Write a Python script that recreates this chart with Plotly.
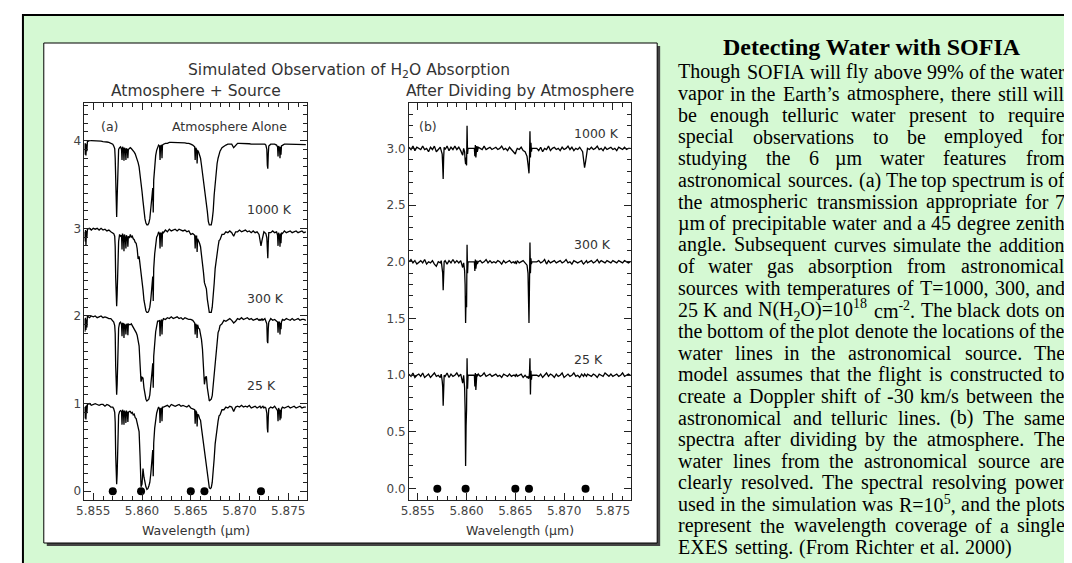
import re
import plotly.graph_objects as go

W, H = 1072, 563

# ---- panel (a): atmosphere + source, wavelength grid (um) and normalised flux ----
WL_A = [
    5.8541, 5.85415, 5.8542, 5.85425, 5.8543, 5.85435, 5.8544, 5.8546, 5.8548, 5.8550,
    5.8552, 5.8554, 5.8556, 5.8558, 5.8560, 5.8562, 5.8564, 5.8566, 5.8568, 5.8570,
    5.8571, 5.8572, 5.85725, 5.8573, 5.85735, 5.8574, 5.85745, 5.8575, 5.85755, 5.8576,
    5.8577, 5.8578, 5.8579, 5.85795, 5.8580, 5.8581, 5.85815, 5.8582, 5.8583, 5.85835,
    5.8584, 5.8585, 5.85855, 5.8586, 5.8587, 5.8588, 5.8589, 5.8590, 5.8591, 5.8592,
    5.8593, 5.8594, 5.8595, 5.8596, 5.8597, 5.8598, 5.8599, 5.8600, 5.8601, 5.8602,
    5.8603, 5.8604, 5.8605, 5.8606, 5.8607, 5.8608, 5.8609, 5.8610, 5.86105, 5.8611,
    5.86115, 5.8612, 5.8613, 5.8614, 5.8615, 5.8616, 5.8617, 5.8618, 5.86185, 5.8619,
    5.8620, 5.86205, 5.8621, 5.8622, 5.8624, 5.8626, 5.8628, 5.8630, 5.8632, 5.8634,
    5.8636, 5.8638, 5.8640, 5.8642, 5.8644, 5.8646, 5.8648, 5.8650, 5.8652, 5.8654,
    5.86545, 5.8655, 5.8656, 5.86565, 5.8657, 5.8658, 5.8659, 5.8660, 5.8661, 5.8662,
    5.8663, 5.8664, 5.8665, 5.8666, 5.8667, 5.8668, 5.8669, 5.8670, 5.8671, 5.8672,
    5.8673, 5.8674, 5.8675, 5.8676, 5.8677, 5.8678, 5.8679, 5.8680, 5.8682, 5.8684,
    5.8686, 5.8688, 5.8690, 5.8692, 5.8694, 5.8696, 5.8698, 5.8700, 5.8702, 5.8704,
    5.8706, 5.8708, 5.8710, 5.8712, 5.8714, 5.8716, 5.8718, 5.8720, 5.8721, 5.8722,
    5.8723, 5.8724, 5.8725, 5.8726, 5.8727, 5.8728, 5.87285, 5.8729, 5.87295, 5.8730,
    5.8732, 5.8734, 5.8736, 5.8738, 5.8739, 5.87395, 5.8740, 5.8741, 5.87415, 5.8742,
    5.87425, 5.8743, 5.8744, 5.8746, 5.8748, 5.8750, 5.8752, 5.8754, 5.8756, 5.8758,
    5.8760, 5.8762, 5.8764, 5.8766, 5.8768,
]

ATMOS = [
    0.97, 0.84, 0.97, 0.83, 0.96, 0.88, 0.99, 1.00, 1.00, 1.00,
    1.00, 1.00, 0.995, 0.995, 0.99, 0.99, 0.985, 0.98, 0.97, 0.96,
    0.94, 0.91, 0.80, 0.45, 0.15, 0.13, 0.35, 0.72, 0.85, 0.90,
    0.92, 0.93, 0.90, 0.78, 0.93, 0.91, 0.77, 0.92, 0.90, 0.78,
    0.91, 0.90, 0.80, 0.90, 0.91, 0.92, 0.91, 0.90, 0.89, 0.87,
    0.85, 0.82, 0.79, 0.75, 0.70, 0.62, 0.53, 0.42, 0.31, 0.19,
    0.11, 0.06, 0.04, 0.04, 0.06, 0.11, 0.20, 0.33, 0.40, 0.46,
    0.18, 0.55, 0.72, 0.83, 0.89, 0.93, 0.95, 0.94, 0.78, 0.94,
    0.95, 0.80, 0.95, 0.96, 0.97, 0.97, 0.98, 0.98, 0.98, 0.98,
    0.98, 0.98, 0.98, 0.98, 0.975, 0.97, 0.97, 0.96, 0.95, 0.93,
    0.78, 0.92, 0.90, 0.74, 0.89, 0.87, 0.84, 0.80, 0.72, 0.64,
    0.57, 0.48, 0.40, 0.32, 0.19, 0.08, 0.04, 0.04, 0.04, 0.10,
    0.20, 0.38, 0.53, 0.64, 0.74, 0.80, 0.85, 0.88, 0.92, 0.94,
    0.95, 0.96, 0.96, 0.96, 0.92, 0.95, 0.97, 0.97, 0.97, 0.97,
    0.97, 0.97, 0.965, 0.96, 0.96, 0.96, 0.96, 0.96, 0.96, 0.96,
    0.96, 0.96, 0.96, 0.96, 0.95, 0.90, 0.72, 0.68, 0.85, 0.94,
    0.96, 0.96, 0.96, 0.95, 0.93, 0.82, 0.94, 0.92, 0.80, 0.93,
    0.84, 0.94, 0.95, 0.96, 0.96, 0.96, 0.96, 0.96, 0.96, 0.96,
    0.96, 0.96, 0.96, 0.955, 0.955,
]

K1000 = [
    0.96, 0.85, 0.98, 0.80, 0.97, 0.90, 0.99, 1.00, 0.98, 1.00,
    0.99, 1.00, 0.98, 1.00, 0.98, 0.99, 0.97, 0.98, 0.96, 0.95,
    0.94, 0.91, 0.79, 0.44, 0.13, 0.11, 0.25, 0.50, 0.62, 0.85,
    0.93, 0.91, 0.92, 0.76, 0.94, 0.90, 0.74, 0.93, 0.88, 0.77,
    0.92, 0.89, 0.79, 0.91, 0.89, 0.93, 0.90, 0.91, 0.88, 0.87,
    0.84, 0.83, 0.77, 0.65, 0.68, 0.60, 0.48, 0.40, 0.30, 0.18,
    0.11, 0.06, 0.04, 0.04, 0.06, 0.10, 0.19, 0.32, 0.40, 0.45,
    0.17, 0.54, 0.71, 0.82, 0.90, 0.92, 0.96, 0.93, 0.77, 0.95,
    0.94, 0.79, 0.96, 0.95, 0.98, 0.96, 0.99, 0.97, 0.98, 0.99,
    0.97, 0.99, 0.98, 0.97, 0.98, 0.96, 0.97, 0.93, 0.94, 0.92,
    0.77, 0.91, 0.91, 0.73, 0.88, 0.86, 0.83, 0.79, 0.71, 0.62,
    0.50, 0.38, 0.34, 0.31, 0.19, 0.08, 0.04, 0.04, 0.04, 0.10,
    0.21, 0.37, 0.54, 0.63, 0.75, 0.79, 0.86, 0.87, 0.93, 0.93,
    0.96, 0.95, 0.97, 0.95, 0.91, 0.96, 0.96, 0.98, 0.96, 0.97,
    0.98, 0.96, 0.97, 0.95, 0.97, 0.95, 0.96, 0.93, 0.86, 0.80,
    0.86, 0.93, 0.96, 0.95, 0.94, 0.89, 0.70, 0.66, 0.84, 0.95,
    0.95, 0.97, 0.95, 0.96, 0.92, 0.80, 0.95, 0.91, 0.79, 0.94,
    0.83, 0.95, 0.94, 0.97, 0.95, 0.96, 0.97, 0.95, 0.96, 0.97,
    0.95, 0.96, 0.97, 0.95, 0.96,
]

K300 = [
    0.97, 0.82, 0.98, 0.84, 0.96, 0.87, 1.00, 0.98, 1.00, 0.99,
    1.00, 0.98, 0.99, 1.00, 0.98, 0.99, 0.98, 0.97, 0.97, 0.95,
    0.93, 0.89, 0.80, 0.43, 0.12, 0.10, 0.22, 0.45, 0.60, 0.86,
    0.92, 0.93, 0.90, 0.77, 0.92, 0.91, 0.75, 0.91, 0.89, 0.79,
    0.90, 0.91, 0.78, 0.91, 0.90, 0.90, 0.91, 0.89, 0.88, 0.86,
    0.84, 0.81, 0.78, 0.72, 0.66, 0.45, 0.25, 0.30, 0.29, 0.18,
    0.10, 0.05, 0.03, 0.04, 0.05, 0.10, 0.19, 0.33, 0.39, 0.46,
    0.18, 0.54, 0.73, 0.82, 0.88, 0.94, 0.94, 0.95, 0.77, 0.93,
    0.96, 0.79, 0.94, 0.97, 0.96, 0.98, 0.97, 0.99, 0.97, 0.98,
    0.99, 0.97, 0.98, 0.96, 0.98, 0.97, 0.96, 0.96, 0.95, 0.92,
    0.79, 0.91, 0.89, 0.75, 0.90, 0.86, 0.85, 0.79, 0.73, 0.62,
    0.40, 0.22, 0.30, 0.31, 0.18, 0.07, 0.03, 0.04, 0.05, 0.09,
    0.21, 0.39, 0.52, 0.65, 0.73, 0.81, 0.84, 0.89, 0.91, 0.95,
    0.94, 0.96, 0.97, 0.95, 0.92, 0.94, 0.97, 0.96, 0.98, 0.96,
    0.97, 0.98, 0.96, 0.97, 0.95, 0.96, 0.97, 0.95, 0.96, 0.95,
    0.97, 0.95, 0.96, 0.97, 0.94, 0.91, 0.71, 0.69, 0.86, 0.93,
    0.97, 0.95, 0.96, 0.94, 0.93, 0.81, 0.93, 0.93, 0.79, 0.92,
    0.85, 0.93, 0.96, 0.95, 0.97, 0.96, 0.95, 0.97, 0.95, 0.96,
    0.97, 0.95, 0.96, 0.96, 0.95,
]

K25 = [
    0.96, 0.83, 0.97, 0.82, 0.98, 0.89, 0.99, 1.00, 0.98, 0.99,
    1.00, 0.99, 0.98, 0.99, 0.99, 0.97, 0.99, 0.98, 0.96, 0.96,
    0.94, 0.90, 0.79, 0.42, 0.11, 0.08, 0.20, 0.44, 0.58, 0.87,
    0.91, 0.92, 0.91, 0.76, 0.93, 0.90, 0.76, 0.92, 0.89, 0.78,
    0.92, 0.89, 0.79, 0.90, 0.91, 0.91, 0.89, 0.90, 0.87, 0.88,
    0.84, 0.83, 0.78, 0.74, 0.68, 0.40, 0.05, 0.08, 0.26, 0.16,
    0.09, 0.05, 0.02, 0.03, 0.06, 0.10, 0.20, 0.32, 0.39, 0.47,
    0.17, 0.55, 0.72, 0.84, 0.89, 0.93, 0.96, 0.94, 0.78, 0.94,
    0.95, 0.80, 0.96, 0.96, 0.97, 0.98, 0.96, 0.99, 0.98, 0.97,
    0.98, 0.99, 0.97, 0.98, 0.97, 0.96, 0.98, 0.95, 0.94, 0.93,
    0.77, 0.92, 0.90, 0.74, 0.88, 0.87, 0.83, 0.81, 0.72, 0.63,
    0.57, 0.47, 0.39, 0.26, 0.19, 0.08, 0.04, 0.03, 0.04, 0.10,
    0.20, 0.37, 0.54, 0.63, 0.75, 0.80, 0.86, 0.87, 0.93, 0.93,
    0.96, 0.95, 0.97, 0.96, 0.91, 0.96, 0.97, 0.96, 0.98, 0.96,
    0.97, 0.96, 0.98, 0.95, 0.96, 0.97, 0.95, 0.96, 0.97, 0.95,
    0.96, 0.97, 0.95, 0.96, 0.95, 0.89, 0.72, 0.67, 0.85, 0.94,
    0.96, 0.95, 0.97, 0.94, 0.92, 0.80, 0.95, 0.92, 0.81, 0.93,
    0.83, 0.94, 0.96, 0.95, 0.96, 0.97, 0.95, 0.96, 0.97, 0.95,
    0.96, 0.97, 0.95, 0.96, 0.96,
]

# ---- panel (b): after dividing by the atmosphere ----
WL_B = [
    5.8541, 5.8543, 5.8545, 5.8547, 5.8549, 5.8551, 5.8553, 5.8555, 5.8557, 5.8559,
    5.8561, 5.8563, 5.8565, 5.8567, 5.8569, 5.8571, 5.8573, 5.8574, 5.8575, 5.85755,
    5.8576, 5.85765, 5.8577, 5.8578, 5.8580, 5.8582, 5.8584, 5.8586, 5.8588, 5.8590,
    5.8592, 5.8594, 5.8595, 5.8596, 5.8597, 5.8598, 5.85985, 5.8599, 5.85995, 5.8600,
    5.86005, 5.8601, 5.86015, 5.8602, 5.8608, 5.86085, 5.8609, 5.86095, 5.8610, 5.86105,
    5.8611, 5.8612, 5.8614, 5.8616, 5.8618, 5.8620, 5.8622, 5.8624, 5.8626, 5.8628,
    5.8630, 5.8632, 5.8634, 5.8636, 5.8638, 5.8640, 5.8642, 5.8644, 5.8646, 5.8648,
    5.8649, 5.8650, 5.8651, 5.8652, 5.8654, 5.8656, 5.8658, 5.8660, 5.8661, 5.8662,
    5.8663, 5.86635, 5.8664, 5.86645, 5.8665, 5.86655, 5.8666, 5.86665, 5.8667, 5.8672,
    5.8674, 5.8676, 5.8678, 5.8680, 5.8682, 5.8684, 5.8686, 5.8688, 5.8690, 5.8692,
    5.8694, 5.8696, 5.8698, 5.8700, 5.8702, 5.8704, 5.8706, 5.8708, 5.8710, 5.8712,
    5.8714, 5.8716, 5.8718, 5.8719, 5.8720, 5.8721, 5.8722, 5.8723, 5.8724, 5.8726,
    5.8728, 5.8730, 5.8732, 5.8734, 5.8736, 5.8738, 5.8740, 5.8742, 5.8744, 5.8746,
    5.8748, 5.8750, 5.8752, 5.8754, 5.8756, 5.8758, 5.8760, 5.8762, 5.8764, 5.8766,
    5.8768,
]

R1000 = [
    1.01, 0.99, 1.02, 0.98, 1.01, 1.00, 0.99, 1.02, 0.99, 1.00,
    0.97, 1.01, 0.99, 1.02, 0.97, 0.99, 1.01, 0.98, 0.95, 0.85,
    0.73, 0.92, 1.01, 0.99, 1.02, 0.98, 1.01, 0.99, 1.02, 0.99,
    1.01, 0.98, 0.96, 0.94, 1.00, 0.97, 0.90, 0.86, 0.92, 0.85,
    1.20, 0.95, 1.00, 1.00, 1.00, 0.93, 1.03, 0.92, 0.99, 1.02,
    0.97, 1.01, 1.00, 0.99, 1.02, 0.99, 1.00, 1.01, 0.99, 1.00,
    1.01, 0.99, 1.00, 1.02, 0.99, 1.00, 0.98, 1.01, 0.99, 0.98,
    0.97, 0.95, 0.98, 1.00, 0.99, 1.01, 0.98, 0.97, 0.95, 0.93,
    0.86, 0.80, 0.78, 0.90, 1.15, 0.92, 1.05, 0.97, 1.00, 1.00,
    0.98, 1.01, 0.97, 1.00, 0.99, 1.02, 0.98, 1.00, 1.01, 0.99,
    1.00, 0.98, 1.01, 0.99, 1.00, 1.02, 0.99, 1.01, 0.98, 1.00,
    0.99, 1.01, 0.99, 0.97, 0.90, 0.83, 0.88, 0.96, 1.00, 0.99,
    1.01, 0.99, 1.00, 1.02, 0.99, 1.00, 0.98, 1.01, 0.99, 1.00,
    1.01, 0.99, 1.00, 0.98, 1.01, 1.00, 0.99, 1.01, 0.99, 1.00,
    1.00,
]

R300 = [
    1.00, 1.02, 0.99, 1.01, 0.98, 1.00, 1.01, 0.99, 1.02, 0.98,
    1.00, 0.99, 1.01, 0.98, 0.96, 1.00, 0.99, 1.01, 0.94, 0.90,
    0.75, 0.93, 1.00, 1.01, 0.98, 1.01, 0.99, 1.02, 0.99, 1.01,
    0.99, 1.01, 0.97, 0.95, 0.99, 0.92, 0.80, 0.46, 0.70, 0.60,
    1.15, 0.90, 1.00, 1.00, 1.00, 0.92, 1.02, 0.94, 0.99, 1.01,
    0.98, 1.00, 1.01, 0.99, 1.00, 1.02, 0.99, 1.01, 0.99, 1.00,
    0.99, 1.01, 1.00, 0.98, 1.01, 0.99, 1.00, 1.01, 0.99, 1.00,
    0.99, 1.00, 0.98, 1.01, 0.99, 1.00, 1.01, 0.99, 0.98, 0.97,
    0.90, 0.70, 0.46, 0.80, 1.17, 0.90, 1.03, 0.98, 1.00, 1.00,
    1.01, 0.99, 1.00, 1.02, 0.98, 1.01, 0.99, 1.00, 1.01, 0.99,
    1.00, 1.01, 0.99, 1.00, 1.02, 0.99, 1.00, 0.98, 1.01, 1.00,
    0.99, 1.00, 1.01, 0.99, 0.98, 0.99, 1.00, 1.01, 0.99, 1.00,
    1.01, 0.99, 1.00, 1.02, 0.99, 1.01, 1.00, 0.99, 1.01, 1.00,
    0.99, 1.01, 1.00, 0.99, 1.01, 1.00, 0.99, 1.01, 1.00, 0.99,
    1.00,
]

R25 = [
    1.01, 0.99, 1.02, 0.98, 1.00, 1.01, 0.99, 1.02, 0.98, 1.00,
    1.01, 0.98, 1.00, 1.02, 0.99, 1.00, 0.98, 1.01, 0.95, 0.90,
    0.73, 0.90, 1.00, 0.99, 1.02, 0.98, 1.01, 0.99, 1.00, 1.02,
    0.99, 1.01, 0.98, 0.93, 1.00, 0.89, 0.70, 0.20, 0.55, 0.70,
    1.15, 0.88, 1.00, 1.00, 1.00, 0.90, 1.02, 0.87, 0.98, 1.01,
    0.99, 1.01, 0.99, 1.00, 1.02, 0.99, 1.00, 1.01, 0.99, 1.00,
    1.01, 0.99, 1.00, 0.98, 1.01, 1.00, 0.99, 1.01, 0.99, 1.00,
    1.00, 0.99, 1.01, 0.99, 1.00, 1.01, 0.98, 1.00, 0.99, 0.98,
    0.99, 0.97, 0.98, 1.02, 1.15, 0.83, 1.04, 0.96, 1.00, 1.00,
    0.99, 1.01, 0.98, 1.00, 1.02, 0.99, 1.01, 1.00, 0.98, 1.01,
    0.99, 1.00, 1.02, 0.98, 1.00, 1.01, 0.99, 1.00, 1.02, 0.99,
    1.00, 0.98, 1.01, 1.00, 0.99, 1.01, 1.00, 0.99, 1.01, 1.00,
    0.99, 1.01, 1.00, 0.98, 1.01, 1.00, 0.99, 1.02, 1.00, 0.99,
    1.01, 0.99, 1.00, 1.01, 0.99, 1.00, 1.02, 0.99, 1.00, 1.01,
    1.00,
]

# positions of the astronomical water lines (black dots)
DOT_WL = [5.8570, 5.8599, 5.8650, 5.8664, 5.8722]
DOT_Y = [0, 0, 0, 0, 0]

TITLE = "Detecting Water with SOFIA"
TEXT_LINES = [
    "Though SOFIA will fly above 99% of the water",
    "vapor in the Earth’s atmosphere, there still will",
    "be enough telluric water present to require",
    "special observations to be employed for",
    "studying the 6 µm water features from",
    "astronomical sources. (a) The top spectrum is of",
    "the atmospheric transmission appropriate for 7",
    "µm of precipitable water and a 45 degree zenith",
    "angle. Subsequent curves simulate the addition",
    "of water gas absorption from astronomical",
    "sources with temperatures of T=1000, 300, and",
    "25 K and N(H<sub>2</sub>O)=10<sup>18</sup> cm<sup>-2</sup>. The black dots on",
    "the bottom of the plot denote the locations of the",
    "water lines in the astronomical source. The",
    "model assumes that the flight is constructed to",
    "create a Doppler shift of -30 km/s between the",
    "astronomical and telluric lines. (b) The same",
    "spectra after dividing by the atmosphere. The",
    "water lines from the astronomical source are",
    "clearly resolved. The spectral resolving power",
    "used in the simulation was R=10<sup>5</sup>, and the plots",
    "represent the wavelength coverage of a single",
    "EXES setting. (From Richter et al. 2000)",
]


def px(x):
    return x / W


def py(y):
    return 1 - y / H


# Times / Liberation Serif advance widths (1/1000 em), used to justify the paragraph
TIMES = dict(zip("abcdefghijklmnopqrstuvwxyz",
                 [444, 500, 444, 500, 444, 333, 500, 500, 278, 278, 500, 278, 778,
                  500, 500, 500, 500, 333, 389, 278, 500, 500, 722, 500, 500, 444]))
TIMES.update(zip("ABCDEFGHIJKLMNOPQRSTUVWXYZ",
                 [722, 667, 667, 722, 611, 556, 722, 722, 333, 389, 722, 611, 889,
                  722, 722, 556, 722, 667, 556, 611, 722, 722, 944, 722, 722, 611]))
TIMES.update({c: 500 for c in "0123456789"})
TIMES.update({" ": 250, ".": 250, ",": 250, "(": 333, ")": 333, "=": 564, "-": 333,
              "%": 833, "/": 278, "’": 333, "µ": 500})


def text_width(markup, size):
    # small allowance for the browser rounding glyph advances up to whole pixels
    total, scale = 0.0, 1.0
    for tok in re.split(r"(<[^>]+>)", markup):
        if tok.startswith("<"):
            scale = 0.7 if tok in ("<sup>", "<sub>") else 1.0
            continue
        for ch in tok:
            total += TIMES.get(ch, 500) * scale
    return total * size / 1000 * 1.03


fig = go.Figure()

line_style = dict(color="black", width=1.3)
for vals, off in [(ATMOS, 3), (K1000, 2), (K300, 1), (K25, 0)]:
    fig.add_trace(go.Scatter(x=WL_A, y=[v + off for v in vals], mode="lines",
                             line=line_style, xaxis="x", yaxis="y", hoverinfo="skip"))
for vals, off in [(R1000, 2), (R300, 1), (R25, 0)]:
    fig.add_trace(go.Scatter(x=WL_B, y=[v + off for v in vals], mode="lines",
                             line=line_style, xaxis="x2", yaxis="y2", hoverinfo="skip"))
fig.add_trace(go.Scatter(x=DOT_WL, y=DOT_Y, mode="markers", marker=dict(color="black", size=8),
                         xaxis="x", yaxis="y", hoverinfo="skip"))
fig.add_trace(go.Scatter(x=DOT_WL, y=DOT_Y, mode="markers", marker=dict(color="black", size=8),
                         xaxis="x2", yaxis="y2", hoverinfo="skip"))

axfont = dict(family="DejaVu Sans", size=12, color="#444")
common = dict(showline=True, linecolor="#222", linewidth=1, mirror="allticks",
              ticks="inside", ticklen=7, tickwidth=1, tickcolor="#222",
              showgrid=False, zeroline=False, tickfont=axfont)

xdom_a = [px(69), px(293)]
xdom_b = [px(396), px(620)]
ydom = [py(492), py(95)]

fig.update_layout(
    width=W, height=H, margin=dict(l=0, r=0, t=0, b=0),
    paper_bgcolor="white", plot_bgcolor="rgba(0,0,0,0)", showlegend=False,
    xaxis=dict(common, domain=xdom_a, range=[5.8541, 5.8769], tick0=5.855, dtick=0.005,
               tickformat=".3f", anchor="y",
               minor=dict(ticks="inside", ticklen=4, tickcolor="#222", dtick=0.001)),
    yaxis=dict(common, domain=ydom, range=[-0.1, 4.43], tick0=0, dtick=1, tickformat="d",
               anchor="x", minor=dict(ticks="inside", ticklen=4, tickcolor="#222", dtick=0.1)),
    xaxis2=dict(common, domain=xdom_b, range=[5.8541, 5.8769], tick0=5.855, dtick=0.005,
                tickformat=".3f", anchor="y2",
                minor=dict(ticks="inside", ticklen=4, tickcolor="#222", dtick=0.001)),
    yaxis2=dict(common, domain=ydom, range=[-0.1, 3.4], tick0=0, dtick=0.5, tickformat=".1f",
                anchor="x2", minor=dict(ticks="inside", ticklen=4, tickcolor="#222", dtick=0.1)),
)

# green panel, shadowed white picture frame
shapes = [
    dict(type="rect", xref="paper", yref="paper", x0=px(7), y0=py(600), x1=px(1090), y1=py(7),
         fillcolor="#d5f9d3", line=dict(color="black", width=2), layer="below"),
    dict(type="rect", xref="paper", yref="paper", x0=px(31), y0=py(538), x1=px(649), y1=py(38),
         fillcolor="#444", line=dict(width=0), layer="below"),
    dict(type="rect", xref="paper", yref="paper", x0=px(28), y0=py(535), x1=px(646), y1=py(35),
         fillcolor="white", line=dict(color="black", width=1), layer="below"),
]
fig.update_layout(shapes=shapes)

ann = []
plotfont = dict(family="DejaVu Sans", size=12.5, color="#333")
titlefont = dict(family="DejaVu Sans", size=15.5, color="#333")
serif = dict(family="Liberation Serif", size=20, color="black")


def paper_text(text, x, y, font, xanchor="center"):
    ann.append(dict(text=text, xref="paper", yref="paper", x=px(x), y=py(y), xanchor=xanchor,
                    yanchor="middle", showarrow=False, font=font, borderpad=0, borderwidth=0))


def data_text(text, x, y, ax, xanchor="center"):
    ann.append(dict(text=text, xref=ax[0], yref=ax[1], x=x, y=y, xanchor=xanchor,
                    yanchor="middle", showarrow=False, font=plotfont, borderpad=0, borderwidth=0))


paper_text("Simulated Observation of H<sub>2</sub>O Absorption", 335, 63, titlefont)
paper_text("Atmosphere + Source", 181, 83, titlefont)
paper_text("After Dividing by Atmosphere", 508, 83, titlefont)
paper_text("Wavelength (µm)", 181, 522, dict(plotfont, size=12.5))
paper_text("Wavelength (µm)", 508, 522, dict(plotfont, size=12.5))

A = ("x", "y")
B = ("x2", "y2")
data_text("(a)", 5.8567, 4.16, A)
data_text("Atmosphere Alone", 5.8690, 4.16, A)
data_text("1000 K", 5.8708, 3.21, A, "left")
data_text("300 K", 5.8708, 2.20, A, "left")
data_text("25 K", 5.8708, 1.21, A, "left")
data_text("(b)", 5.8560, 3.19, B)
data_text("1000 K", 5.8710, 3.13, B, "left")
data_text("300 K", 5.8710, 2.15, B, "left")
data_text("25 K", 5.8710, 1.14, B, "left")

# caption: bold title, then a justified paragraph placed word by word
paper_text("<b>" + TITLE + "</b>", 862, 39, dict(serif, size=24))
left, right = 667, 1057
for i, line in enumerate(TEXT_LINES):
    y = 64 + i * 21.6
    words = line.split(" ")
    widths = [text_width(w, serif["size"]) for w in words]
    if i == len(TEXT_LINES) - 1:
        gap = serif["size"] * 0.25
    else:
        gap = (right - left - sum(widths)) / (len(words) - 1)
    x = left
    for j, (w, wd) in enumerate(zip(words, widths)):
        if j == 0:
            paper_text(w, x, y, serif, "left")
        elif j == len(words) - 1 and i < len(TEXT_LINES) - 1:
            paper_text(w, right, y, serif, "right")
        else:
            paper_text(w, x + wd / 2, y, serif, "center")
        x += wd + gap

fig.update_layout(annotations=ann)
fig.write_html("out.html")
